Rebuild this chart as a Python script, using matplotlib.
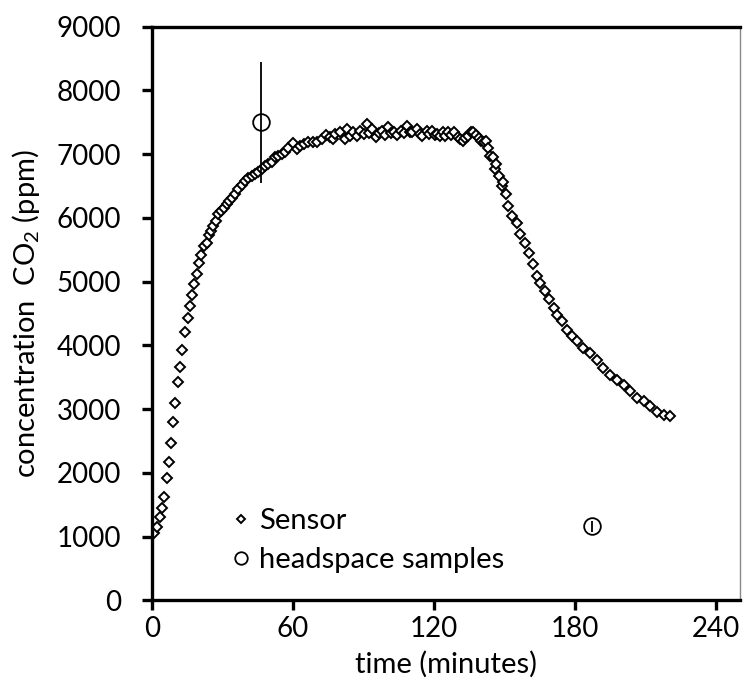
import numpy as np
import matplotlib
matplotlib.use("Agg")
import matplotlib.pyplot as plt

plt.rcParams['font.family'] = ['Lato', 'DejaVu Sans']
plt.rcParams['mathtext.fontset'] = 'custom'
plt.rcParams['mathtext.rm'] = 'Lato'

# sensor readings (minutes, ppm)
sensor_t = [0.8, 2.2, 3.3, 4.3, 5.0, 6.2, 7.4, 8.3, 9.0, 10.0, 11.1, 12.1, 12.9, 13.9,
            15.2, 16.0, 17.0, 18.0, 19.1, 20.1, 21.0, 22.2, 23.3, 24.3, 25.1, 26.1,
            27.1, 28.2, 29.4, 30.6, 31.8, 32.9, 34.2, 35.3, 36.7, 38.2, 39.6, 41.0,
            42.4, 43.8, 45.3, 46.7, 48.1, 49.5, 51.0, 52.4, 53.8, 55.2, 56.6, 58.0,
            59.9, 61.6, 63.0, 64.7, 66.5, 68.4, 70.1, 72.2, 73.9, 75.7, 77.0, 77.9,
            80.0, 82.0, 82.9, 84.3, 85.7, 87.2, 88.6, 90.0, 91.4, 92.5, 93.6, 95.4,
            96.7, 97.9, 99.1, 100.3, 101.6, 102.9, 104.3, 105.7, 107.2, 108.6, 109.7,
            110.7, 112.9, 114.0, 115.0, 116.8, 118.0, 119.3, 120.3, 121.4, 122.5,
            123.6, 124.7, 125.7, 127.1, 128.5, 130.0, 131.0, 132.1, 133.2, 134.3,
            135.7, 136.7, 137.9, 139.0, 140.0, 141.0, 142.1, 143.0, 143.8, 145.0,
            146.0, 146.4, 147.4, 148.8, 149.3, 150.7, 151.6, 153.1, 155.2, 156.6,
            158.7, 160.2, 162.0, 163.7, 165.1, 167.0, 168.7, 170.8, 172.2, 174.4,
            176.5, 178.6, 180.7, 183.5, 186.4, 189.2, 192.0, 194.9, 197.7, 200.6,
            203.4, 206.3, 209.1, 212.0, 214.8, 217.6, 220.5]
sensor_ppm = [1049, 1153, 1311, 1442, 1625, 1914, 2176, 2465, 2790, 3095, 3419, 3661, 3933, 4212,
              4432, 4614, 4798, 4967, 5113, 5297, 5423, 5559, 5612, 5727, 5795, 5873,
              5952, 6057, 6109, 6162, 6214, 6267, 6320, 6372, 6451, 6514, 6581, 6634,
              6660, 6687, 6723, 6765, 6817, 6844, 6880, 6949, 6975, 7001, 7038, 7091,
              7170, 7080, 7132, 7159, 7195, 7195, 7185, 7237, 7300, 7264, 7237, 7316,
              7342, 7237, 7395, 7290, 7342, 7290, 7369, 7320, 7473, 7340, 7395, 7264,
              7330, 7369, 7300, 7421, 7330, 7342, 7300, 7369, 7330, 7447, 7350,
              7342, 7395, 7320, 7290, 7369, 7310, 7369, 7300, 7316, 7290,
              7342, 7290, 7342, 7300, 7342, 7264, 7240, 7211, 7250, 7290,
              7342, 7342, 7300, 7260, 7211, 7185, 7211, 7100, 6975, 6949,
              6765, 6844, 6660, 6503, 6556, 6372, 6188, 6031, 5927, 5743,
              5612, 5455, 5271, 5087, 4983, 4851, 4720, 4589, 4484, 4379,
              4248, 4143, 4064, 3960, 3881, 3776, 3645, 3540, 3461, 3383,
              3277, 3173, 3120, 3041, 2962, 2910, 2895]

# headspace samples (mean and spread)
head_t = [46.5, 187]
head_ppm = [7500, 1160]
head_err = [950, 90]

fig = plt.figure(figsize=(7.45, 6.86), dpi=100)
ax = fig.add_axes([0.204, 0.125, 0.789, 0.836])

ax.plot(sensor_t, sensor_ppm, linestyle='none', marker='D', markersize=5,
        markerfacecolor='white', markeredgecolor='black', markeredgewidth=1.4,
        label='Sensor')
ax.errorbar(head_t, head_ppm, yerr=head_err, fmt='none', ecolor='black',
            elinewidth=1.3, capsize=0)
ax.plot(head_t, head_ppm, linestyle='none', marker='o', markersize=12,
        markerfacecolor='none', markeredgecolor='black', markeredgewidth=1.3,
        label='headspace samples')

ax.set_xlim(0, 250)
ax.set_ylim(0, 9000)
ax.set_xticks([0, 60, 120, 180, 240])
ax.set_yticks(np.arange(0, 9001, 1000))

for s in ['left', 'bottom', 'top']:
    ax.spines[s].set_linewidth(2.4)
    ax.spines[s].set_color('black')
ax.spines['right'].set_linewidth(1)
ax.spines['right'].set_color('#888888')

ax.tick_params(axis='both', direction='out', length=7, width=2.4, labelsize=20, pad=4)
ax.tick_params(axis='y', pad=15)

ax.set_xlabel('time (minutes)', fontsize=21, labelpad=7)
ax.set_ylabel('concentration  CO$\\mathregular{_2}$ (ppm)', fontsize=21, labelpad=11)

leg = ax.legend(loc='lower left', bbox_to_anchor=(0.112, 0.027), frameon=False,
                fontsize=21, handletextpad=0.2, handlelength=0.8, borderaxespad=0,
                labelspacing=0.45, markerscale=0.75)

fig.savefig('out.png', dpi=100)
